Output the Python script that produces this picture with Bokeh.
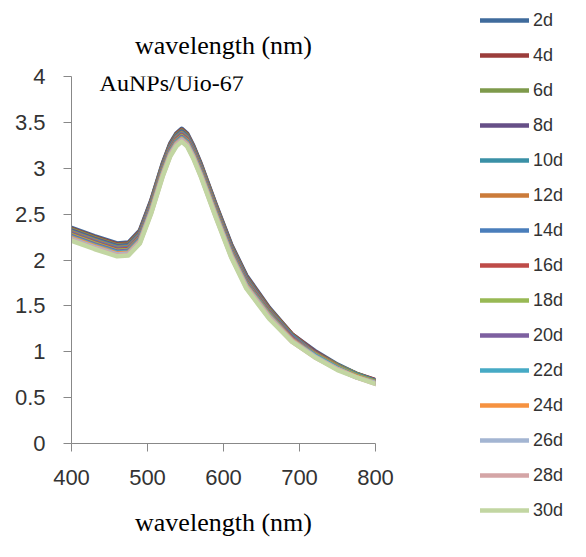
from bokeh.plotting import figure
from bokeh.models import Range1d, FixedTicker, Legend, LegendItem, Label
from bokeh.layouts import row
from bokeh.embed import file_html
from bokeh.resources import INLINE

wavelength = [400, 430, 460, 475, 490, 505, 520, 530, 538, 545, 552, 560, 570, 590, 610, 630, 660, 690, 720, 750, 775, 800]

days = ["2d", "4d", "6d", "8d", "10d", "12d", "14d", "16d", "18d", "20d", "22d", "24d", "26d", "28d", "30d"]

abs_2d  = [2.35, 2.26, 2.18, 2.19, 2.32, 2.65, 3.05, 3.27, 3.38, 3.43, 3.38, 3.25, 3.05, 2.60, 2.17, 1.83, 1.48, 1.19, 1.01, 0.86, 0.76, 0.69]
abs_4d  = [2.34, 2.25, 2.17, 2.18, 2.31, 2.64, 3.04, 3.26, 3.37, 3.42, 3.37, 3.24, 3.04, 2.59, 2.16, 1.82, 1.47, 1.19, 1.00, 0.85, 0.76, 0.69]
abs_6d  = [2.33, 2.24, 2.16, 2.17, 2.30, 2.63, 3.03, 3.25, 3.36, 3.41, 3.36, 3.23, 3.03, 2.58, 2.15, 1.81, 1.46, 1.18, 0.99, 0.85, 0.76, 0.68]
abs_8d  = [2.32, 2.23, 2.15, 2.16, 2.29, 2.62, 3.02, 3.24, 3.35, 3.40, 3.35, 3.22, 3.02, 2.57, 2.14, 1.80, 1.45, 1.17, 0.99, 0.84, 0.75, 0.68]
abs_10d = [2.31, 2.22, 2.14, 2.15, 2.28, 2.61, 3.01, 3.23, 3.34, 3.39, 3.34, 3.21, 3.01, 2.56, 2.13, 1.79, 1.44, 1.17, 0.98, 0.84, 0.75, 0.68]
abs_12d = [2.30, 2.21, 2.13, 2.14, 2.27, 2.60, 3.00, 3.22, 3.33, 3.38, 3.33, 3.20, 3.00, 2.55, 2.12, 1.78, 1.44, 1.16, 0.98, 0.84, 0.74, 0.67]
abs_14d = [2.29, 2.20, 2.12, 2.13, 2.26, 2.59, 2.99, 3.21, 3.32, 3.37, 3.32, 3.19, 2.99, 2.54, 2.11, 1.77, 1.43, 1.16, 0.97, 0.83, 0.74, 0.67]
abs_16d = [2.28, 2.19, 2.11, 2.12, 2.25, 2.58, 2.98, 3.20, 3.31, 3.36, 3.31, 3.18, 2.98, 2.53, 2.10, 1.76, 1.42, 1.15, 0.97, 0.83, 0.74, 0.67]
abs_18d = [2.27, 2.18, 2.10, 2.11, 2.24, 2.57, 2.97, 3.19, 3.30, 3.35, 3.30, 3.17, 2.97, 2.52, 2.09, 1.75, 1.41, 1.14, 0.97, 0.83, 0.74, 0.67]
abs_20d = [2.26, 2.17, 2.09, 2.10, 2.23, 2.56, 2.96, 3.18, 3.29, 3.34, 3.29, 3.16, 2.96, 2.51, 2.08, 1.74, 1.40, 1.14, 0.96, 0.82, 0.73, 0.66]
abs_22d = [2.25, 2.16, 2.08, 2.09, 2.22, 2.55, 2.95, 3.17, 3.28, 3.33, 3.28, 3.15, 2.95, 2.50, 2.07, 1.73, 1.40, 1.13, 0.96, 0.82, 0.73, 0.66]
abs_24d = [2.24, 2.15, 2.07, 2.08, 2.21, 2.54, 2.94, 3.16, 3.27, 3.32, 3.27, 3.14, 2.94, 2.49, 2.06, 1.72, 1.39, 1.13, 0.95, 0.81, 0.73, 0.66]
abs_26d = [2.23, 2.14, 2.06, 2.07, 2.20, 2.53, 2.93, 3.15, 3.26, 3.31, 3.26, 3.13, 2.93, 2.48, 2.05, 1.71, 1.38, 1.12, 0.95, 0.81, 0.72, 0.66]
abs_28d = [2.22, 2.13, 2.05, 2.06, 2.19, 2.52, 2.92, 3.14, 3.25, 3.30, 3.25, 3.12, 2.92, 2.47, 2.04, 1.70, 1.37, 1.11, 0.94, 0.81, 0.72, 0.65]
abs_30d = [2.21, 2.12, 2.04, 2.05, 2.18, 2.51, 2.91, 3.13, 3.24, 3.29, 3.24, 3.11, 2.91, 2.46, 2.03, 1.69, 1.36, 1.11, 0.94, 0.80, 0.72, 0.65]

series = [abs_2d, abs_4d, abs_6d, abs_8d, abs_10d, abs_12d, abs_14d, abs_16d,
          abs_18d, abs_20d, abs_22d, abs_24d, abs_26d, abs_28d, abs_30d]

colors = ["#3F6B9C", "#9B3D3B", "#7E9A4B", "#664F87", "#3A90A6", "#CB7B3A",
          "#4A7EBB", "#BE4B48", "#98B954", "#7D60A0", "#46AAC5", "#F69240",
          "#A3B5D2", "#D4A5A6", "#C2D6A2"]

x_ticks = [400, 500, 600, 700, 800]
y_ticks = [0, 0.5, 1, 1.5, 2, 2.5, 3, 3.5, 4]
y_tick_labels = {0: "0", 0.5: "0.5", 1: "1", 1.5: "1.5", 2: "2", 2.5: "2.5", 3: "3", 3.5: "3.5", 4: "4"}

line_width = 4.5

p = figure(width=408, height=541, output_backend="svg", toolbar_location=None,
           x_range=Range1d(400, 800), y_range=Range1d(0, 4),
           min_border_left=71, min_border_right=33, min_border_top=76, min_border_bottom=98)
p.outline_line_color = None
p.grid.visible = False
p.frame_align = False

p.title.text = "wavelength (nm)"
p.title.align = "center"
p.title.vertical_align = "top"
p.title.text_font = "Liberation Serif"
p.title.text_font_style = "normal"
p.title.text_font_size = "26px"
p.title.text_color = "#000000"
p.title.offset = 0
p.title.standoff = 30

for ys, c in zip(series, colors):
    p.line(wavelength, ys, line_color=c, line_width=line_width, line_join="round", line_cap="round")

for ax in (p.xaxis[0], p.yaxis[0]):
    ax.axis_line_color = "#888888"
    ax.major_tick_line_color = "#888888"
    ax.major_tick_in = 0
    ax.major_tick_out = 8
    ax.minor_tick_line_color = None
    ax.major_label_text_font = "Liberation Sans"
    ax.major_label_text_font_size = "22px"
    ax.major_label_text_color = "#333333"

p.xaxis.ticker = FixedTicker(ticks=x_ticks)
p.yaxis.ticker = FixedTicker(ticks=y_ticks)
p.yaxis.major_label_overrides = y_tick_labels
p.xaxis.major_label_standoff = 18
p.yaxis.major_label_standoff = 18

p.xaxis.axis_label = "wavelength (nm)"
p.xaxis.axis_label_text_font = "Liberation Serif"
p.xaxis.axis_label_text_font_style = "normal"
p.xaxis.axis_label_text_font_size = "26px"
p.xaxis.axis_label_text_color = "#000000"
p.xaxis.axis_label_standoff = 20

p.add_layout(Label(x=437, y=3.93, text="AuNPs/Uio-67", text_font="Liberation Serif",
                   text_font_size="24px", text_baseline="middle", text_color="#000000"))

# legend panel (the series are drawn here outside the visible range; only the legend shows)
lg = figure(width=162, height=541, output_backend="svg", toolbar_location=None,
            x_range=Range1d(0, 1), y_range=Range1d(0, 1),
            x_axis_location=None, y_axis_location=None,
            min_border_left=0, min_border_right=0, min_border_top=0, min_border_bottom=0)
lg.title = None
lg.grid.visible = False
lg.outline_line_color = None
lg.frame_align = False
items = []
for name, ys, c in zip(days, series, colors):
    r = lg.line(wavelength, ys, line_color=c, line_width=line_width, line_cap="round")
    items.append(LegendItem(label=name, renderers=[r]))

legend = Legend(items=items, location=(72, 20), orientation="vertical",
                glyph_width=49, glyph_height=22, label_height=22, spacing=13,
                label_standoff=4, padding=0, margin=0,
                border_line_color=None, background_fill_alpha=0,
                label_text_font="Liberation Sans", label_text_font_size="18px",
                label_text_color="#333333")
lg.add_layout(legend, "center")

layout = row(p, lg, spacing=0)
open("out.html", "w").write(file_html(layout, INLINE))
